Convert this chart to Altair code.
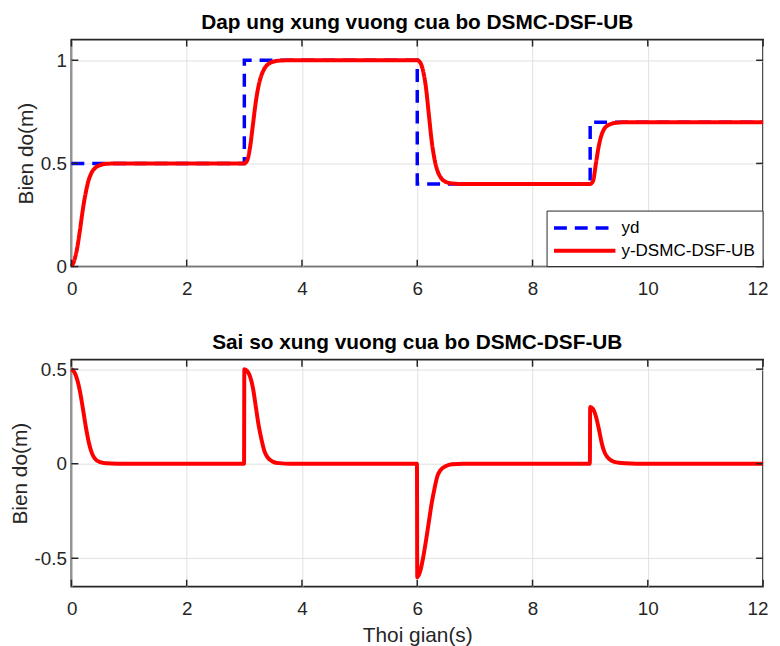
import altair as alt
import pandas as pd

# ---------------- data ----------------
# reference (desired) square-wave signal, drawn as step-after
t_ref = [0, 3, 6, 9, 12]
yd_ref = [0.5, 1.0, 0.4, 0.7, 0.7]

# controller output y-DSMC-DSF-UB
t_y = [0.0, 0.05, 0.1, 0.15, 0.2, 0.25, 0.3, 0.35, 0.4, 0.5, 0.6, 0.8,
       3.0, 3.05, 3.1, 3.15, 3.2, 3.25, 3.3, 3.35, 3.4, 3.5, 3.6, 3.8,
       6.0, 6.05, 6.1, 6.15, 6.2, 6.25, 6.3, 6.35, 6.4, 6.5, 6.6, 6.8,
       9.0, 9.05, 9.1, 9.15, 9.2, 9.25, 9.3, 9.35, 9.4, 9.5, 9.6, 9.8,
       12.0]
y_out = [0.0, 0.03, 0.09, 0.18, 0.28, 0.36, 0.42, 0.455, 0.475, 0.492, 0.498, 0.5,
         0.5, 0.515, 0.58, 0.69, 0.8, 0.88, 0.93, 0.96, 0.978, 0.993, 0.998, 1.0,
         1.0, 0.99, 0.95, 0.87, 0.74, 0.61, 0.52, 0.465, 0.435, 0.41, 0.403, 0.4,
         0.4, 0.415, 0.5, 0.585, 0.64, 0.67, 0.683, 0.69, 0.695, 0.698, 0.7, 0.7,
         0.7]

# tracking error
t_e = [0.0, 0.05, 0.1, 0.15, 0.2, 0.25, 0.3, 0.35, 0.4, 0.5, 0.6, 0.8,
       2.995, 3.0, 3.05, 3.1, 3.15, 3.2, 3.25, 3.3, 3.35, 3.4, 3.5, 3.6, 3.8,
       5.995, 6.0, 6.05, 6.1, 6.15, 6.2, 6.25, 6.3, 6.35, 6.4, 6.5, 6.6, 6.8,
       8.995, 9.0, 9.05, 9.1, 9.15, 9.2, 9.25, 9.3, 9.35, 9.4, 9.5, 9.6, 9.8,
       12.0]
e_out = [0.5, 0.485, 0.445, 0.38, 0.29, 0.195, 0.115, 0.06, 0.03, 0.008, 0.002, 0.0,
         0.0, 0.5, 0.49, 0.46, 0.4, 0.3, 0.2, 0.125, 0.065, 0.035, 0.01, 0.003, 0.0,
         0.0, -0.6, -0.57, -0.5, -0.41, -0.31, -0.21, -0.13, -0.065, -0.035, -0.012, -0.003, 0.0,
         0.0, 0.3, 0.29, 0.25, 0.185, 0.11, 0.06, 0.035, 0.02, 0.012, 0.005, 0.002, 0.0,
         0.0]

series = ["yd", "y-DSMC-DSF-UB"]
x_ticks = [0, 2, 4, 6, 8, 10, 12]
y_ticks_top = [0, 0.5, 1]
y_ticks_bot = [-0.5, 0, 0.5]

# ---------------- styling ----------------
W, H = 698, 229
FONT = "Liberation Sans"
AX = "#262626"
TK = 7

df_ref = pd.DataFrame({"t": t_ref, "v": yd_ref, "s": series[0]})
df_y = pd.DataFrame({"t": t_y, "v": y_out, "s": series[1]})
df_e = pd.DataFrame({"t": t_e, "v": e_out})

xs = alt.Scale(domain=[0, 12], nice=False, zero=False)
ys_top = alt.Scale(domain=[0, 1.1], nice=False, zero=False)
ys_bot = alt.Scale(domain=[-0.65, 0.55], nice=False, zero=False)

color = alt.Color("s:N", scale=alt.Scale(domain=series, range=["#0000ff", "#ff0000"]), legend=None)
dash = alt.StrokeDash("s:N", scale=alt.Scale(domain=series, range=[[13, 8], [1, 0]]), legend=None)


def x_axis(title):
    return alt.Axis(values=x_ticks, ticks=False, tickSize=0, domain=False, grid=True,
                    labelPadding=13, titlePadding=6, title=title,
                    labelFlush=True, labelFlushOffset=5,
                    labelExpr="toString(datum.value)")


def y_axis(vals):
    return alt.Axis(values=vals, ticks=False, tickSize=0, domain=False, grid=True,
                    labelPadding=5, titlePadding=4, title="Bien do(m)", labelFlush=False,
                    labelExpr="toString(datum.value)")


def inward_ticks(yscale, yvals):
    xt = pd.DataFrame({"t": x_ticks})
    yt = pd.DataFrame({"v": yvals})
    rule = dict(color=AX, strokeWidth=1.5)
    top = alt.Chart(xt).mark_rule(**rule).encode(
        x=alt.X("t:Q", scale=xs), y=alt.value(0), y2=alt.value(TK))
    bot = alt.Chart(xt).mark_rule(**rule).encode(
        x=alt.X("t:Q", scale=xs), y=alt.value(H), y2=alt.value(H - TK))
    left = alt.Chart(yt).mark_rule(**rule).encode(
        y=alt.Y("v:Q", scale=yscale), x=alt.value(0), x2=alt.value(TK))
    right = alt.Chart(yt).mark_rule(**rule).encode(
        y=alt.Y("v:Q", scale=yscale), x=alt.value(W), x2=alt.value(W - TK))
    return [top, bot, left, right]


# ----- boxed legend drawn inside the top panel (bottom-right corner) -----
LX0, LY0 = W - 218, H - 56
box = alt.Chart(pd.DataFrame({"s": [""]})).mark_rect(
    fill="white", stroke=AX, strokeWidth=1).encode(
    x=alt.value(LX0), x2=alt.value(W), y=alt.value(LY0), y2=alt.value(H))
leg_layers = [box]
for i, name in enumerate(series):
    d = pd.DataFrame({"s": [name]})
    yy = LY0 + 17 + 23 * i
    leg_layers.append(
        alt.Chart(d).mark_rule(strokeWidth=3.5 if i == 0 else 4).encode(
            x=alt.value(LX0 + 7), x2=alt.value(LX0 + 69), y=alt.value(yy),
            color=color, strokeDash=dash))
    leg_layers.append(
        alt.Chart(d).mark_text(align="left", baseline="middle", font=FONT,
                               fontSize=17.2, color="black").encode(
            x=alt.value(LX0 + 75), y=alt.value(yy), text="s:N"))

ref_line = alt.Chart(df_ref).mark_line(interpolate="step-after", strokeWidth=3.5).encode(
    x=alt.X("t:Q", scale=xs, axis=x_axis(None)),
    y=alt.Y("v:Q", scale=ys_top, axis=y_axis(y_ticks_top)),
    color=color, strokeDash=dash)

out_line = alt.Chart(df_y).mark_line(interpolate="monotone", strokeWidth=4).encode(
    x=alt.X("t:Q", scale=xs), y=alt.Y("v:Q", scale=ys_top),
    color=color, strokeDash=dash)

top = alt.layer(ref_line, out_line, *inward_ticks(ys_top, y_ticks_top), *leg_layers).properties(
    width=W, height=H,
    title=alt.Title("Dap ung xung vuong cua bo DSMC-DSF-UB", fontSize=21, fontWeight="bold",
                    color="black", font=FONT, anchor="middle", frame="group", offset=6))

err_line = alt.Chart(df_e).mark_line(interpolate="monotone", strokeWidth=4, color="#ff0000").encode(
    x=alt.X("t:Q", scale=xs, axis=x_axis("Thoi gian(s)")),
    y=alt.Y("v:Q", scale=ys_bot, axis=y_axis(y_ticks_bot)))

bottom = alt.layer(err_line, *inward_ticks(ys_bot, y_ticks_bot)).properties(
    width=W, height=H,
    title=alt.Title("Sai so xung vuong cua bo DSMC-DSF-UB", fontSize=21, fontWeight="bold",
                    color="black", font=FONT, anchor="middle", frame="group", offset=6))

chart = alt.vconcat(top, bottom, spacing=32).properties(
    padding={"left": 0, "top": 0, "right": 0, "bottom": 0},
    background="white",
).configure_view(
    stroke=AX, strokeWidth=1.8,
).configure_axis(
    labelFont=FONT, titleFont=FONT, labelFontSize=19, titleFontSize=21,
    labelColor=AX, titleColor=AX, titleFontWeight="normal",
    gridColor="#e1e1e1", gridWidth=1,
)

chart.save("out.html", embed_options={"renderer": "svg", "actions": False})
